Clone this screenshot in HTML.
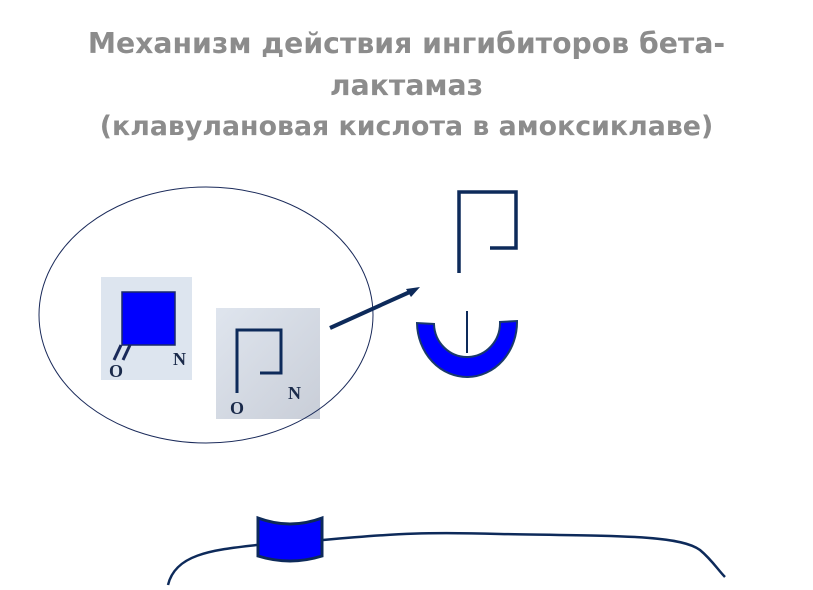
<!DOCTYPE html>
<html><head><meta charset="utf-8"><style>
body{margin:0;background:#fff;width:813px;height:590px;overflow:hidden;position:relative;font-family:"DejaVu Sans","Liberation Sans",sans-serif}
.t{position:absolute;left:0;width:813px;text-align:center;color:#8c8c8c;font-weight:bold;white-space:nowrap}
</style></head><body>
<div class="t" style="top:27px;font-size:28.3px">Механизм действия ингибиторов бета-</div>
<div class="t" style="top:69px;font-size:28.3px">лактамаз</div>
<div class="t" style="top:111px;font-size:26.8px">(клавулановая кислота в амоксиклаве)</div>
<svg width="813" height="590" style="position:absolute;left:0;top:0">
<defs><linearGradient id="g" x1="0" y1="0" x2="1" y2="1"><stop offset="0" stop-color="#dfe5ee"/><stop offset="1" stop-color="#c9ced8"/></linearGradient></defs>
<rect x="101" y="277" width="91" height="103" fill="#dde5ef"/>
<rect x="122" y="292" width="53" height="53" fill="#0000ff" stroke="#1a2a6a" stroke-width="1.5"/>
<line x1="121" y1="345" x2="114" y2="360" stroke="#1a2a5a" stroke-width="3"/>
<line x1="130" y1="345" x2="123" y2="360" stroke="#1a2a5a" stroke-width="3"/>
<text x="109" y="377" font-family="Liberation Serif" font-weight="bold" font-size="18" fill="#1a2a4a">O</text>
<text x="173" y="365" font-family="Liberation Serif" font-weight="bold" font-size="18" fill="#1a2a4a">N</text>
<rect x="216" y="308" width="104" height="111" fill="url(#g)"/>
<path d="M237 393V330H281V373H260" fill="none" stroke="#0d2a5a" stroke-width="3"/>
<text x="230" y="414" font-family="Liberation Serif" font-weight="bold" font-size="18" fill="#1a2a4a">O</text>
<text x="288" y="399" font-family="Liberation Serif" font-weight="bold" font-size="18" fill="#1a2a4a">N</text>
<ellipse cx="206" cy="315" rx="167" ry="128" fill="none" stroke="#1a2a5a" stroke-width="1"/>
<line x1="330" y1="328" x2="412" y2="291" stroke="#0d2a5a" stroke-width="4"/>
<polygon points="420,287 406,289 411,297" fill="#0d2a5a"/>
<path d="M459 273V192H516V248H490" fill="none" stroke="#0d2a5a" stroke-width="3.5"/>
<path d="M417 323 A50 55 0 0 0 517 321 L500 322 A33 34 0 0 1 434 324 Z" fill="#0000ff" stroke="#1a3a6a" stroke-width="2"/>
<line x1="467" y1="311" x2="467" y2="353" stroke="#0d2a5a" stroke-width="2"/>
<path d="M168 585C175 555 210 550 257 545M323 540C400 533 430 532 500 534C620 536 680 535 700 550C712 560 718 570 725 577" fill="none" stroke="#0d2a5a" stroke-width="2.5"/>
<path d="M258 518Q290 530 322 518V556Q290 566 258 556Z" fill="#0000ff" stroke="#0d2a5a" stroke-width="3"/>
</svg>
</body></html>
